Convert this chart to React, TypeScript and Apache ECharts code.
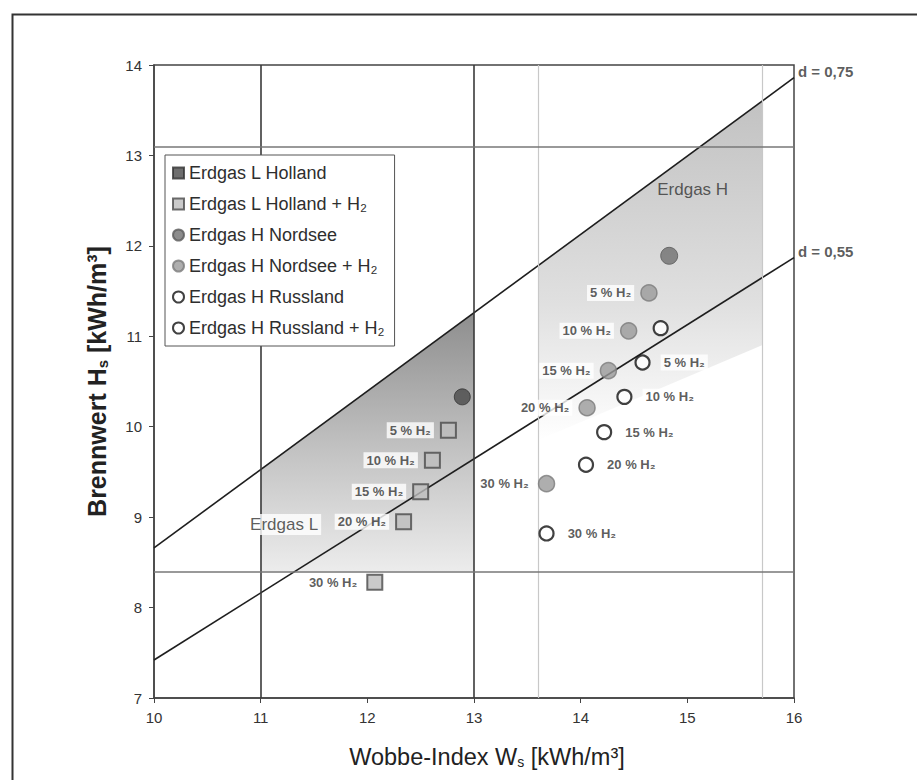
import React, { useEffect, useRef } from 'react';
import * as echarts from 'echarts';

const FONT = '"Liberation Sans", Arial, sans-serif';

// Axis ranges / ticks
const xMin = 10, xMax = 16, xStep = 1;
const yMin = 7, yMax = 14, yStep = 1;

// Share labels for hydrogen admixture
const shareLabels = ['5 % H₂', '10 % H₂', '15 % H₂', '20 % H₂', '30 % H₂'];

// Erdgas L Holland
const hollandBase = [12.89, 10.33];
const hollandH2X = [12.76, 12.61, 12.5, 12.34, 12.07];
const hollandH2Y = [9.96, 9.63, 9.28, 8.95, 8.28];

// Erdgas H Nordsee
const nordseeBase = [14.83, 11.89];
const nordseeH2X = [14.64, 14.45, 14.26, 14.06, 13.68];
const nordseeH2Y = [11.48, 11.06, 10.62, 10.21, 9.37];

// Erdgas H Russland
const russlandBase = [14.75, 11.09];
const russlandH2X = [14.58, 14.41, 14.22, 14.05, 13.68];
const russlandH2Y = [10.71, 10.33, 9.94, 9.58, 8.82];

// Relative density lines
const lineD075 = [[10, 8.66], [16, 13.86]];
const lineD055 = [[10, 7.42], [16, 11.87]];
const dLabels = ['d = 0,75', 'd = 0,55'];

// Gas family regions
const regionL = [[11, 9.53], [13, 11.26], [13, 8.4], [11, 8.4]];
const regionH = [[13.6, 11.78], [15.7, 13.6], [15.7, 10.9], [13.6, 9.85]];
const regionNames = ['Erdgas L', 'Erdgas H'];
const regionLabelAt = [[11.22, 8.92], [15.05, 12.62]];
const regionLabelBg = ['#fff', 'transparent'];

// Reference lines
const darkVLines = [11, 13];
const lightVLines = [13.6, 15.7];
const hLines = [13.1, 8.4];

const seriesNames = [
  'Erdgas L Holland',
  'Erdgas L Holland + H₂',
  'Erdgas H Nordsee',
  'Erdgas H Nordsee + H₂',
  'Erdgas H Russland',
  'Erdgas H Russland + H₂',
];

const labelStyle = (position: string, distance: number) => ({
  show: true,
  position,
  distance,
  formatter: (p: any) => p.name,
  fontFamily: FONT,
  fontSize: 13,
  fontWeight: 'bold',
  color: '#333',
  backgroundColor: '#fff',
  padding: [2, 3, 1, 3],
});

const zip = (xs: number[], ys: number[]) =>
  xs.map((x, i) => ({ name: shareLabels[i], value: [x, ys[i]] }));

export default function App() {
  const ref = useRef<HTMLDivElement>(null);

  useEffect(() => {
    if (!ref.current) return;
    const chart = echarts.init(ref.current, undefined, { renderer: 'svg' });

    const polygonSeries = (pts: number[][], stops: any[]) => ({
      type: 'custom',
      silent: true,
      z: 1,
      data: [pts[0]],
      renderItem: (_params: any, api: any) => ({
        type: 'polygon',
        shape: { points: pts.map((p) => api.coord(p)) },
        style: {
          fill: new echarts.graphic.LinearGradient(0, 0, 0, 1, stops),
        },
      }),
    });

    const option: any = {
      animation: false,
      backgroundColor: '#fff',
      textStyle: { fontFamily: FONT },
      grid: {
        left: 154,
        top: 65,
        width: 640,
        height: 633,
        show: true,
        borderColor: '#444',
        borderWidth: 1.5,
        backgroundColor: 'transparent',
      },
      legend: {
        orient: 'vertical',
        left: 165,
        top: 155,
        selectedMode: false,
        padding: [8, 10, 8, 7],
        itemGap: 11,
        itemWidth: 11,
        itemHeight: 11,
        backgroundColor: '#fff',
        borderColor: '#555',
        borderWidth: 1,
        textStyle: { fontFamily: FONT, fontSize: 18, color: '#2e2e2e', lineHeight: 20 },
        data: [
          { name: seriesNames[0], icon: 'rect' },
          { name: seriesNames[1], icon: 'rect' },
          { name: seriesNames[2], icon: 'circle' },
          { name: seriesNames[3], icon: 'circle' },
          { name: seriesNames[4], icon: 'circle' },
          { name: seriesNames[5], icon: 'circle' },
        ],
        z: 20,
      },
      graphic: [
        {
          type: 'rect',
          left: 10,
          top: 12,
          shape: { x: 0, y: 0, width: 1000, height: 1000 },
          style: { fill: 'none', stroke: '#333', lineWidth: 2 },
          z: 100,
          silent: true,
        },
      ],
      xAxis: {
        type: 'value',
        min: xMin,
        max: xMax,
        interval: xStep,
        name: '{n|Wobbe-Index W}{s|s}{n| [kWh/m³]}',
        nameLocation: 'middle',
        nameGap: 46,
        nameTextStyle: {
          padding: [0, 0, 0, 26],
          rich: {
            n: { fontFamily: FONT, fontSize: 23.5, color: '#222' },
            s: { fontFamily: FONT, fontSize: 14, color: '#222', verticalAlign: 'bottom', padding: [11, 0, 0, 0] },
          },
        },
        axisLine: { show: true, lineStyle: { color: '#444', width: 1.5 } },
        axisTick: { show: true, length: 5, lineStyle: { color: '#444' } },
        axisLabel: { fontFamily: FONT, fontSize: 15, color: '#333', margin: 12 },
        splitLine: { show: false },
      },
      yAxis: {
        type: 'value',
        min: yMin,
        max: yMax,
        interval: yStep,
        name: '{n|Brennwert H}{s|s}{n| [kWh/m³]}',
        nameLocation: 'middle',
        nameGap: 44,
        nameRotate: 90,
        nameTextStyle: {
          rich: {
            n: { fontFamily: FONT, fontSize: 25, fontWeight: 'bold', color: '#222' },
            s: { fontFamily: FONT, fontSize: 15, fontWeight: 'bold', color: '#222', verticalAlign: 'bottom', padding: [12, 0, 0, 0] },
          },
        },
        axisLine: { show: true, lineStyle: { color: '#444', width: 1.5 } },
        axisTick: { show: true, length: 5, lineStyle: { color: '#444' } },
        axisLabel: { fontFamily: FONT, fontSize: 15, color: '#333', margin: 12 },
        splitLine: { show: false },
      },
      series: [
        polygonSeries(regionL, [
          { offset: 0, color: '#8e8e8e' },
          { offset: 0.55, color: '#c4c4c4' },
          { offset: 1, color: '#ececec' },
        ]),
        polygonSeries(regionH, [
          { offset: 0, color: '#c2c2c2' },
          { offset: 0.6, color: '#e0e0e0' },
          { offset: 1, color: '#ffffff' },
        ]),
        {
          type: 'line',
          name: 'refs',
          data: [],
          z: 3,
          markLine: {
            silent: true,
            symbol: 'none',
            label: { show: false },
            data: [
              ...darkVLines.map((v) => ({ xAxis: v, lineStyle: { color: '#3a3a3a', width: 1.6, type: 'solid' } })),
              ...lightVLines.map((v) => ({ xAxis: v, lineStyle: { color: '#c8c8c8', width: 1.2, type: 'solid' } })),
              ...hLines.map((v) => ({ yAxis: v, lineStyle: { color: '#777', width: 1.6, type: 'solid' } })),
            ],
          },
        },
        ...[lineD075, lineD055].map((d) => ({
          type: 'line',
          data: d,
          symbol: 'none',
          silent: true,
          z: 4,
          lineStyle: { color: '#1e1e1e', width: 1.6 },
        })),
        {
          type: 'scatter',
          silent: true,
          symbolSize: 0,
          z: 6,
          itemStyle: { color: 'rgba(0,0,0,0)' },
          data: [lineD075[1], lineD055[1]].map((p, i) => ({ name: dLabels[i], value: p })),
          label: {
            show: true,
            position: 'right',
            distance: 4,
            offset: [0, -6],
            formatter: (p: any) => p.name,
            fontFamily: FONT,
            fontSize: 15,
            fontWeight: 'bold',
            color: '#333',
          },
        },
        {
          type: 'scatter',
          silent: true,
          symbolSize: 0,
          z: 6,
          itemStyle: { color: 'rgba(0,0,0,0)' },
          data: regionLabelAt.map((p, i) => ({
            name: regionNames[i],
            value: p,
            label: { backgroundColor: regionLabelBg[i] },
          })),
          label: {
            show: true,
            position: 'inside',
            formatter: (p: any) => p.name,
            fontFamily: FONT,
            fontSize: 17,
            color: '#333',
            padding: [2, 3],
          },
        },
        {
          type: 'scatter',
          name: seriesNames[0],
          z: 8,
          symbol: 'circle',
          symbolSize: 16,
          itemStyle: { color: '#4a4a4a', borderColor: '#333', borderWidth: 1 },
          data: [hollandBase],
        },
        {
          type: 'scatter',
          name: seriesNames[1],
          z: 8,
          symbol: 'rect',
          symbolSize: 15,
          itemStyle: { color: '#bdbdbd', borderColor: '#4a4a4a', borderWidth: 2 },
          label: labelStyle('left', 6),
          data: zip(hollandH2X, hollandH2Y),
        },
        {
          type: 'scatter',
          name: seriesNames[2],
          z: 8,
          symbol: 'circle',
          symbolSize: 17,
          itemStyle: { color: '#6f6f6f', borderColor: '#5a5a5a', borderWidth: 1 },
          data: [nordseeBase],
        },
        {
          type: 'scatter',
          name: seriesNames[3],
          z: 8,
          symbol: 'circle',
          symbolSize: 16,
          itemStyle: { color: '#9a9a9a', borderColor: '#7a7a7a', borderWidth: 1.5 },
          label: labelStyle('left', 6),
          data: zip(nordseeH2X, nordseeH2Y),
        },
        {
          type: 'scatter',
          name: seriesNames[4],
          z: 8,
          symbol: 'circle',
          symbolSize: 14,
          itemStyle: { color: '#fff', borderColor: '#111', borderWidth: 2.2 },
          data: [russlandBase],
        },
        {
          type: 'scatter',
          name: seriesNames[5],
          z: 8,
          symbol: 'circle',
          symbolSize: 14,
          itemStyle: { color: '#fff', borderColor: '#111', borderWidth: 2.2 },
          label: labelStyle('right', 10),
          data: zip(russlandH2X, russlandH2Y),
        },
      ],
    };

    chart.setOption(option);
    return () => chart.dispose();
  }, []);

  return (
    <div
      ref={ref}
      style={{ position: 'absolute', left: 0, top: 0, width: 917, height: 780, background: '#fff' }}
    />
  );
}
